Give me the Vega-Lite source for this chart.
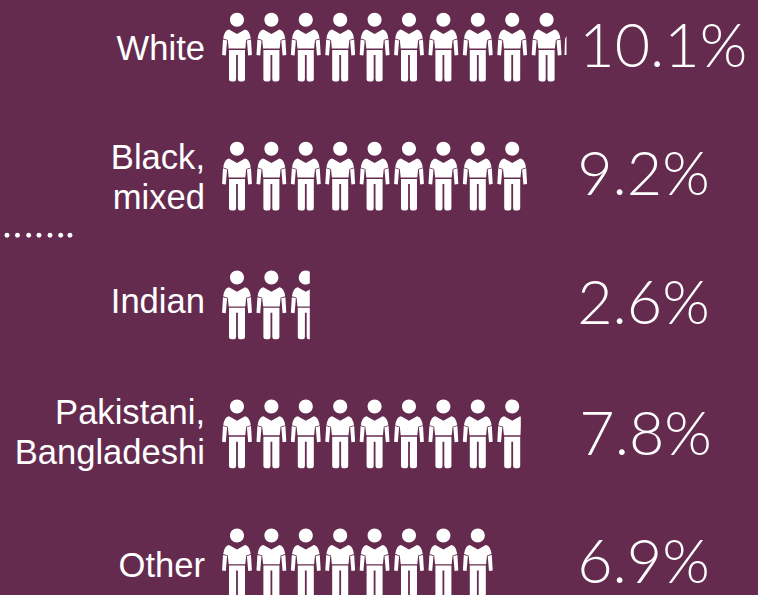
{"$schema":"https://vega.github.io/schema/vega-lite/v6.json","width":758,"height":595,"padding":0,"autosize":{"type":"none"},"background":"#642B4E","view":{"stroke":null},
"datasets":{"figures":[
{"group":"White","position":1,"row":0.004,"part":"full"},{"group":"White","position":2,"row":0.004,"part":"full"},{"group":"White","position":3,"row":0.004,"part":"full"},{"group":"White","position":4,"row":0.004,"part":"full"},{"group":"White","position":5,"row":0.004,"part":"full"},{"group":"White","position":6,"row":0.004,"part":"full"},{"group":"White","position":7,"row":0.004,"part":"full"},{"group":"White","position":8,"row":0.004,"part":"full"},{"group":"White","position":9,"row":0.004,"part":"full"},{"group":"White","position":10,"row":0.004,"part":"full"},{"group":"White","position":11,"row":0.004,"part":"tenth"},
{"group":"Black, mixed","position":1,"row":1.004,"part":"full"},{"group":"Black, mixed","position":2,"row":1.004,"part":"full"},{"group":"Black, mixed","position":3,"row":1.004,"part":"full"},{"group":"Black, mixed","position":4,"row":1.004,"part":"full"},{"group":"Black, mixed","position":5,"row":1.004,"part":"full"},{"group":"Black, mixed","position":6,"row":1.004,"part":"full"},{"group":"Black, mixed","position":7,"row":1.004,"part":"full"},{"group":"Black, mixed","position":8,"row":1.004,"part":"full"},{"group":"Black, mixed","position":9,"row":1.004,"part":"full"},
{"group":"Indian","position":1,"row":2.004,"part":"full"},{"group":"Indian","position":2,"row":2.004,"part":"full"},{"group":"Indian","position":3,"row":2.004,"part":"sixtenths"},
{"group":"Pakistani, Bangladeshi","position":1,"row":3.004,"part":"full"},{"group":"Pakistani, Bangladeshi","position":2,"row":3.004,"part":"full"},{"group":"Pakistani, Bangladeshi","position":3,"row":3.004,"part":"full"},{"group":"Pakistani, Bangladeshi","position":4,"row":3.004,"part":"full"},{"group":"Pakistani, Bangladeshi","position":5,"row":3.004,"part":"full"},{"group":"Pakistani, Bangladeshi","position":6,"row":3.004,"part":"full"},{"group":"Pakistani, Bangladeshi","position":7,"row":3.004,"part":"full"},{"group":"Pakistani, Bangladeshi","position":8,"row":3.004,"part":"full"},{"group":"Pakistani, Bangladeshi","position":9,"row":3.004,"part":"eighttenths"},
{"group":"Other","position":1,"row":4.004,"part":"full"},{"group":"Other","position":2,"row":4.004,"part":"full"},{"group":"Other","position":3,"row":4.004,"part":"full"},{"group":"Other","position":4,"row":4.004,"part":"full"},{"group":"Other","position":5,"row":4.004,"part":"full"},{"group":"Other","position":6,"row":4.004,"part":"full"},{"group":"Other","position":7,"row":4.004,"part":"full"},{"group":"Other","position":8,"row":4.004,"part":"full"}],
"labels":[
{"label":["White"],"position":0.07,"row":0.02},
{"label":["Black,","mixed"],"position":0.07,"row":0.862},
{"label":["Indian"],"position":0.07,"row":1.98},
{"label":["Pakistani,","Bangladeshi"],"position":0.07,"row":2.843},
{"label":["Other"],"position":0.07,"row":4.034}],
"rates":[
{"rate":"10.1%","position":10.95,"row":0.008},
{"rate":"9.2%","position":10.89,"row":1.008},
{"rate":"2.6%","position":10.89,"row":2.008},
{"rate":"7.8%","position":10.95,"row":3.018},
{"rate":"6.9%","position":10.89,"row":4.018}],
"dots":[{"position":-5.977,"row":1.456},{"position":-5.686,"row":1.456},{"position":-5.381,"row":1.456},{"position":-5.055,"row":1.456},{"position":-4.756,"row":1.456},{"position":-4.436,"row":1.456},{"position":-4.125,"row":1.456},{"position":-3.855,"row":1.456}]},
"encoding":{
"x":{"field":"position","type":"quantitative","scale":{"domain":[-5.889,16.145],"nice":false,"zero":false},"axis":null},
"y":{"field":"row","type":"quantitative","scale":{"domain":[-0.3685,4.2475],"reverse":true,"nice":false,"zero":false},"axis":null}},
"layer":[
{"data":{"name":"figures"},"mark":{"type":"point","filled":true,"opacity":1,"size":4,"color":"#ffffff"},
"encoding":{"shape":{"field":"part","type":"nominal","legend":null,"scale":{"domain":["full","tenth","sixtenths","eighttenths"],"range":[
"M-7,-28.2A7,7 0 1,1 7,-28.2A7,7 0 1,1 -7,-28.2ZM-8,-18.5L0,-14L8,-18.5Q12.5,-18 13.8,-9.5L9.2,-8L8.3,0.6L-8.3,0.6L-9.2,-8L-13.8,-9.5Q-12.5,-18 -8,-18.5ZM-9.9,-7.5L-14,-8.6L-14.9,7L-11.2,7.5ZM9.9,-7.5L14,-8.6L14.9,7L11.2,7.5ZM-8,2L8,2L8,31Q8,33.5 5,33.5L3,33.5Q0.9,33.5 0.9,31L0.9,7L-0.9,7L-0.9,31Q-0.9,33.5 -3,33.5L-5,33.5Q-8,33.5 -8,31Z",
"M-16,-9L-14.5,-12L-14.5,7L-16.5,7Z",
"M4,-33.94A7,7 0 1,0 4,-22.46ZM-8,-18.5L0,-14L4,-16.25L4,0.6L-8.3,0.6L-9.2,-8L-13.8,-9.5Q-12.5,-18 -8,-18.5ZM-9.9,-7.5L-14,-8.6L-14.9,7L-11.2,7.5ZM-8,2L4,2L4,33.5L3,33.5Q0.9,33.5 0.9,31L0.9,7L-0.9,7L-0.9,31Q-0.9,33.5 -3,33.5L-5,33.5Q-8,33.5 -8,31Z",
"M-7,-28.2A7,7 0 1,1 7,-28.2A7,7 0 1,1 -7,-28.2ZM-8,-18.5L0,-14L8,-18.5L8.6,-18L8.6,-8L8.3,0.6L-8.3,0.6L-9.2,-8L-13.8,-9.5Q-12.5,-18 -8,-18.5ZM-9.9,-7.5L-14,-8.6L-14.9,7L-11.2,7.5ZM-8,2L8,2L8,31Q8,33.5 5,33.5L3,33.5Q0.9,33.5 0.9,31L0.9,7L-0.9,7L-0.9,31Q-0.9,33.5 -3,33.5L-5,33.5Q-8,33.5 -8,31Z"]}}}},
{"data":{"name":"dots"},"mark":{"type":"circle","size":24,"color":"#ffffff","opacity":1}},
{"data":{"name":"labels"},"mark":{"type":"text","align":"right","baseline":"middle","font":"Liberation Sans","fontSize":34.6,"lineHeight":40,"color":"#ffffff"},"encoding":{"text":{"field":"label"}}},
{"data":{"name":"rates"},"mark":{"type":"text","align":"left","baseline":"middle","font":"Lato","fontWeight":300,"fontSize":61,"color":"#ffffff"},"encoding":{"text":{"field":"rate"}}}
]}
